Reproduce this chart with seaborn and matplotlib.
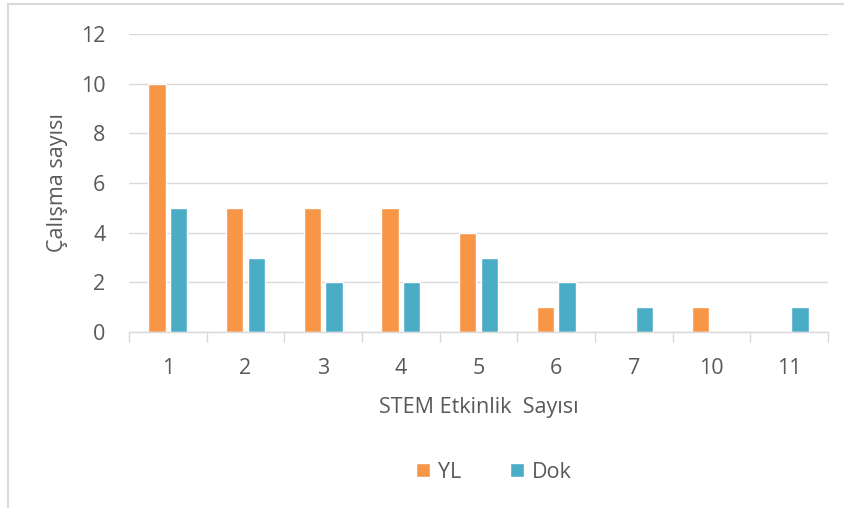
import matplotlib
matplotlib.use("Agg")
import matplotlib.pyplot as plt
import seaborn as sns
import pandas as pd
from matplotlib.patches import Rectangle, Patch

categories = ["1", "2", "3", "4", "5", "6", "7", "10", "11"]
yl_values = [10, 5, 5, 5, 4, 1, 0, 1, 0]
dok_values = [5, 3, 2, 2, 3, 2, 1, 0, 1]
series_names = ["YL", "Dok"]
yticks = [0, 2, 4, 6, 8, 10, 12]

df = pd.DataFrame({
    "cat": categories * 2,
    "val": yl_values + dok_values,
    "series": [series_names[0]] * len(categories) + [series_names[1]] * len(categories),
})

sns.set_theme(style="white")
plt.rcParams["font.family"] = ["Open Sans", "DejaVu Sans"]
text_color = "#595959"
fs = 15.5

fig = plt.figure(figsize=(8.45, 5.08), dpi=100)
ax = fig.add_axes([129 / 845, 1 - 332 / 508, (828 - 129) / 845, (332 - 34) / 508])

sns.barplot(data=df, x="cat", y="val", hue="series", order=categories,
            hue_order=series_names, palette=["#F79646", "#4BACC6"],
            width=0.56, gap=0.2, ax=ax, legend=False, saturation=1)

ax.set_ylim(0, 12)
ax.set_xlim(-0.5, len(categories) - 0.5)
ax.set_yticks(yticks)
ax.yaxis.grid(True, color="#D9D9D9", linewidth=1)
ax.set_axisbelow(True)
for s in ["top", "right", "left"]:
    ax.spines[s].set_visible(False)
ax.spines["bottom"].set_color("#D9D9D9")
ax.spines["bottom"].set_linewidth(1)

ax.set_xticks([i - 0.5 for i in range(len(categories) + 1)], minor=True)
ax.tick_params(axis="x", which="minor", length=7, width=1, color="#D9D9D9", direction="out", bottom=True)
ax.tick_params(axis="x", which="major", length=0, pad=19, labelsize=fs, labelcolor=text_color)
ax.tick_params(axis="y", length=0, pad=17, labelsize=fs, labelcolor=text_color)

ax.set_xlabel("STEM Etkinlik  Sayısı", fontsize=fs, color=text_color, labelpad=13)
ax.set_ylabel("Çalışma sayısı", fontsize=fs, color=text_color, labelpad=9)

handles = [Patch(facecolor="#F79646"), Patch(facecolor="#4BACC6")]
leg = fig.legend(handles, series_names, loc="center", bbox_to_anchor=(494 / 845, 1 - 472 / 508),
                 ncol=2, frameon=False, fontsize=fs, handlelength=0.65, handleheight=0.65,
                 handletextpad=0.35, columnspacing=2.3)
for t in leg.get_texts():
    t.set_color(text_color)

fig.patches.append(Rectangle((8 / 845, -0.01), 1, 1 - 4 / 508 + 0.01, transform=fig.transFigure,
                             fill=False, edgecolor="#D9D9D9", linewidth=1.5))

fig.savefig("out.png", dpi=100, facecolor="white")
